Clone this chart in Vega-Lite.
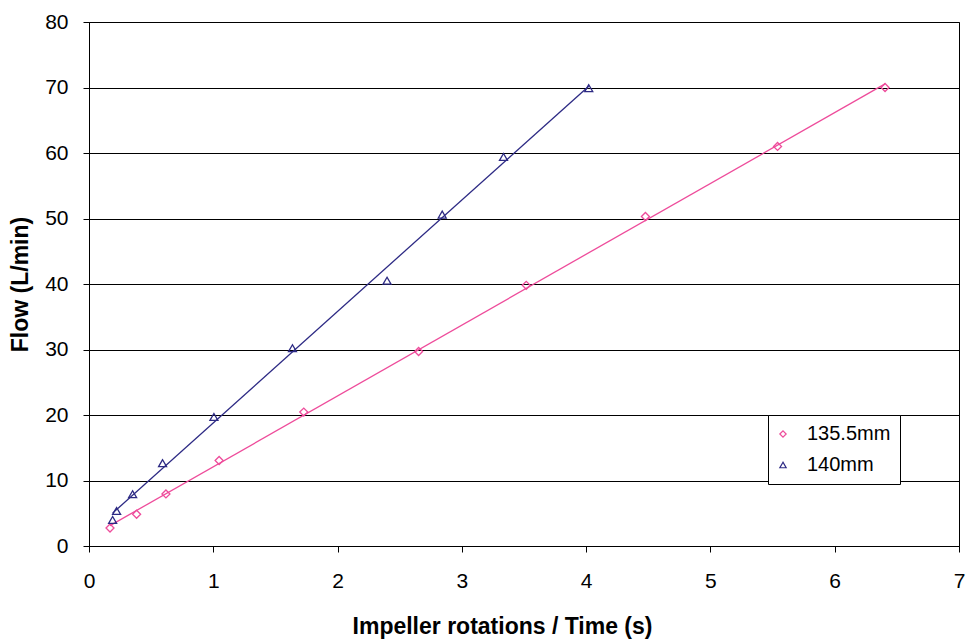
{
  "$schema": "https://vega.github.io/schema/vega-lite/v6.json",
  "width": 870,
  "height": 524,
  "autosize": {"type": "none"},
  "padding": {"left": 89, "top": 22, "right": 8, "bottom": 93},
  "background": "white",
  "config": {
    "font": "Liberation Sans",
    "view": {"stroke": "black", "strokeWidth": 1},
    "axis": {
      "domainColor": "black",
      "tickColor": "black",
      "tickSize": 6,
      "labelColor": "black",
      "labelFontSize": 21,
      "labelFont": "Liberation Sans",
      "labelFlush": false,
      "titleColor": "black",
      "titleFontSize": 23,
      "titleFont": "Liberation Sans",
      "titleFontWeight": "bold"
    }
  },
  "data": {
    "values": [
      {"series": "135.5mm", "x": 0.169, "y": 2.75},
      {"series": "135.5mm", "x": 0.383, "y": 4.85},
      {"series": "135.5mm", "x": 0.619, "y": 7.95},
      {"series": "135.5mm", "x": 1.047, "y": 13.05},
      {"series": "135.5mm", "x": 1.728, "y": 20.45},
      {"series": "135.5mm", "x": 2.652, "y": 29.7},
      {"series": "135.5mm", "x": 3.518, "y": 39.8},
      {"series": "135.5mm", "x": 4.477, "y": 50.3},
      {"series": "135.5mm", "x": 5.54, "y": 61.0},
      {"series": "135.5mm", "x": 6.405, "y": 70.0},
      {"series": "140mm", "x": 0.19, "y": 3.98},
      {"series": "140mm", "x": 0.222, "y": 5.35},
      {"series": "140mm", "x": 0.351, "y": 7.9},
      {"series": "140mm", "x": 0.592, "y": 12.65},
      {"series": "140mm", "x": 1.005, "y": 19.7},
      {"series": "140mm", "x": 1.637, "y": 30.2},
      {"series": "140mm", "x": 2.398, "y": 40.5},
      {"series": "140mm", "x": 2.842, "y": 50.6},
      {"series": "140mm", "x": 3.335, "y": 59.4},
      {"series": "140mm", "x": 4.021, "y": 69.9}
    ]
  },
  "layer": [
    {
      "transform": [{"regression": "y", "on": "x", "groupby": ["series"]}],
      "mark": {"type": "line", "strokeWidth": 1.3},
      "encoding": {
        "x": {"field": "x", "type": "quantitative"},
        "y": {"field": "y", "type": "quantitative"},
        "color": {"field": "series", "type": "nominal"}
      }
    },
    {
      "mark": {"type": "point", "filled": false, "size": 64, "strokeWidth": 1.3, "opacity": 1},
      "encoding": {
        "x": {
          "field": "x", "type": "quantitative",
          "scale": {"domain": [0, 7], "nice": false},
          "axis": {"values": [0, 1, 2, 3, 4, 5, 6, 7], "format": "d", "grid": false, "labelPadding": 18, "title": "Impeller rotations / Time (s)", "titleX": 413, "titleY": 80, "titleBaseline": "middle", "titleAnchor": "middle", "titleAlign": "center"}
        },
        "y": {
          "field": "y", "type": "quantitative",
          "scale": {"domain": [0, 80], "nice": false},
          "axis": {"values": [0, 10, 20, 30, 40, 50, 60, 70, 80], "format": "d", "grid": true, "gridColor": "black", "gridOpacity": 1, "gridWidth": 1, "labelPadding": 15, "title": "Flow (L/min)", "titlePadding": 12}
        },
        "color": {
          "field": "series", "type": "nominal",
          "scale": {"domain": ["135.5mm", "140mm"], "range": ["#EE4C9B", "#2D2A84"]},
          "legend": {
            "title": null,
            "orient": "none",
            "legendX": 679,
            "legendY": 393,
            "fillColor": "white",
            "strokeColor": "black",
            "padding": 9,
            "rowPadding": 11,
            "labelFontSize": 20,
            "labelColor": "black",
            "labelOffset": 14,
            "symbolOffset": -4,
            "symbolSize": 40,
            "symbolStrokeWidth": 1.2,
            "symbolType": "diamond"
          }
        },
        "shape": {
          "field": "series", "type": "nominal",
          "scale": {"domain": ["135.5mm", "140mm"], "range": ["diamond", "triangle-up"]}
        }
      }
    }
  ]
}
